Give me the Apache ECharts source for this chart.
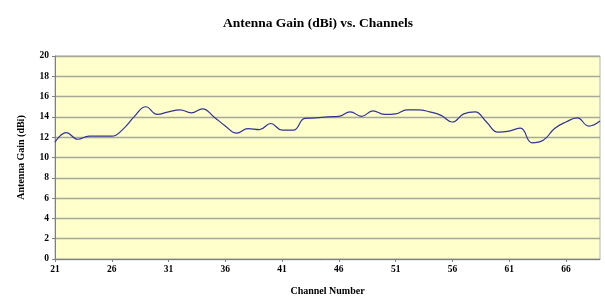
<!DOCTYPE html>
<html>
<head>
<meta charset="utf-8">
<script src="https://cdn.jsdelivr.net/npm/echarts@6/dist/echarts.min.js"></script>
<style>
  html, body { margin: 0; padding: 0; background: #fff; }
  #chart { width: 605px; height: 307px; }
</style>
</head>
<body>
<div id="chart"></div>
<script>
// channel numbers 21..69
const channels = [21, 22, 23, 24, 25, 26, 27, 28, 29, 30, 31, 32, 33, 34, 35, 36, 37, 38, 39, 40,
  41, 42, 43, 44, 45, 46, 47, 48, 49, 50, 51, 52, 53, 54, 55, 56, 57, 58, 59, 60,
  61, 62, 63, 64, 65, 66, 67, 68, 69]
// antenna gain in dBi
const gain = [11.5, 12.45, 11.8, 12.1, 12.1, 12.1, 12.8, 14.05, 15.0, 14.25, 14.5, 14.7, 14.4, 14.8, 14.0, 13.1, 12.4, 12.85, 12.75, 13.35,
  12.7, 12.7, 13.85, 13.9, 14.0, 14.05, 14.5, 14.05, 14.6, 14.25, 14.3, 14.7, 14.7, 14.5, 14.15, 13.5, 14.3, 14.5, 13.5, 12.5,
  12.6, 12.9, 11.45, 11.7, 12.85, 13.5, 13.9, 13.1, 13.6]

const serif = "'Liberation Serif', 'Times New Roman', serif"

const chart = echarts.init(document.getElementById('chart'))
chart.setOption({
  animation: false,
  title: {
    text: 'Antenna Gain (dBi) vs. Channels',
    left: 313,
    top: 12,
    textAlign: 'center',
    textStyle: { fontFamily: serif, fontSize: 13.5, fontWeight: 'bold', color: '#000' }
  },
  grid: {
    left: 55,
    right: 5,
    top: 56,
    bottom: 48,
    show: true,
    backgroundColor: '#ffffcc',
    borderColor: '#b4b4b4',
    borderWidth: 1
  },
  xAxis: {
    type: 'category',
    data: channels,
    boundaryGap: false,
    name: 'Channel Number',
    nameLocation: 'middle',
    nameGap: 27,
    nameTextStyle: { fontFamily: serif, fontSize: 10, fontWeight: 'bold', color: '#000' },
    axisLine: { lineStyle: { color: '#808080' } },
    axisTick: { show: true, interval: 4, length: 3, lineStyle: { color: '#808080' } },
    axisLabel: { interval: 4, fontFamily: serif, fontSize: 9.5, fontWeight: 'bold', color: '#000', margin: 6 },
    splitLine: { show: false }
  },
  yAxis: {
    type: 'value',
    min: 0,
    max: 20,
    interval: 2,
    name: 'Antenna Gain (dBi)',
    nameLocation: 'middle',
    nameRotate: 90,
    nameGap: 29,
    nameTextStyle: { fontFamily: serif, fontSize: 10, fontWeight: 'bold', color: '#000' },
    axisLine: { show: true, lineStyle: { color: '#808080' } },
    axisTick: { show: true, length: 3, lineStyle: { color: '#808080' } },
    axisLabel: { fontFamily: serif, fontSize: 9.5, fontWeight: 'bold', color: '#000', margin: 6 },
    splitLine: { show: true, lineStyle: { color: '#a8a898', width: 1.3 } }
  },
  series: [{
    type: 'line',
    data: gain,
    smooth: 0.45,
    symbol: 'none',
    lineStyle: { color: '#333399', width: 1.2 }
  }]
})
</script>
</body>
</html>
